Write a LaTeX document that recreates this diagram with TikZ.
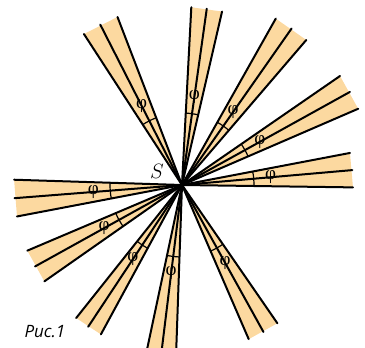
\documentclass[tikz,border=0pt]{standalone}
\usepackage{fontspec}
\newfontfamily\capfont{Open Sans}
\newfontfamily\greekfont{Liberation Serif}
\definecolor{wedgefill}{RGB}{252,217,160}
\begin{document}
\begin{tikzpicture}[x=1pt, y=1pt,
  edge/.style={line width=2pt, line cap=round},
  anglemark/.style={line width=1.2pt},
  philabel/.style={font=\greekfont\fontsize{19}{19}\selectfont, inner sep=0pt}]
\useasboundingbox (-182,-163) rectangle (183,185);
\coordinate (S) at (0,0);
% wedges: direction / half width / length
\foreach \a/\h/\r [count=\i] in {5/5.8/171, 29/5.6/192, 55/5.6/191, 82/5/178, 117/6/180,
    184.5/6.3/168, 209/6/168, 236.5/5/170, 263/5/175, 299/5.6/168}{
  \pgfmathsetmacro{\lo}{\a-\h}
  \pgfmathsetmacro{\hi}{\a+\h}
  \fill[wedgefill] (S) -- (\lo:\r) -- (\hi:\r) -- cycle;
  \coordinate (lo\i) at (\lo:\r);
  \coordinate (hi\i) at (\hi:\r);
  \coordinate (mid\i) at (\a:\r);
  \draw[edge] (lo\i) -- (S) -- (hi\i);
  \draw[edge] (S) -- (mid\i);
  \draw[anglemark] (\lo:72) arc[start angle=\lo, end angle=\hi, radius=72];
  \node[philabel] (phi\i) at (\a:89) {φ};
}
\node[font=\fontsize{21}{21}\selectfont] (s) at (-25,14) {$S$};
\node[font=\capfont\itshape\fontsize{17}{17}\selectfont, anchor=west] (cap) at (-161,-147) {Рис.1};
\end{tikzpicture}
\end{document}
